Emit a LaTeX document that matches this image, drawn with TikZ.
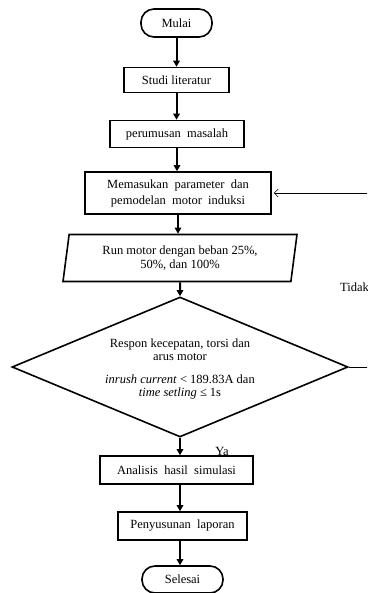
\documentclass[tikz,border=0pt]{standalone}
\usepackage{fontspec}
\setmainfont{Liberation Serif}
\usetikzlibrary{shapes.geometric,arrows.meta}
\begin{document}
\begin{tikzpicture}[x=1pt,y=-1pt,
  txt/.style={font=\fontsize{12.5}{16}\selectfont,align=center},
  box/.style={draw,line width=1.6pt,inner sep=0pt,txt},
  term/.style={draw,line width=1.6pt,rounded corners=13pt,inner sep=0pt,txt},
  flow/.style={line width=2pt,-{Triangle[length=6pt,width=6.5pt]}},
  fb/.style={line width=0.6pt}
]
\useasboundingbox (0,0) rectangle (367,593);
\clip (0,0) rectangle (367,593);

\node[term,minimum width=71pt,minimum height=28pt] (mulai) at (176.5,23) {Mulai};
\node[box,minimum width=105pt,minimum height=25pt] (studi) at (176.5,80) {Studi literatur};
\node[box,minimum width=134pt,minimum height=27pt] (rumus) at (177,134) {perumusan\ \ masalah};
\node[box,minimum width=186pt,minimum height=42pt] (param) at (178,193)
  {Memasukan\ \ parameter\ \ dan\\pemodelan\ \ motor\ \ induksi};
\node[draw,line width=1.6pt,trapezium,trapezium left angle=76,trapezium right angle=104,
  trapezium stretches body,minimum width=234pt,minimum height=47pt,inner sep=0pt,
  txt,font=\fontsize{12.5}{14}\selectfont] (run) at (180,258)
  {Run motor dengan beban 25\%,\\50\%, dan 100\%};
\node[draw,line width=1.6pt,diamond,aspect=2.4,minimum width=336pt,minimum height=140pt,
  inner sep=0pt] (dec) at (180,367) {};
\node[txt,font=\fontsize{12.5}{13.5}\selectfont] (dectxt) at (180,369)
  {Respon kecepatan, torsi dan\\arus motor\\[9pt]
   \textit{inrush current} < 189.83A dan\\\textit{time setling} ≤ 1s};
\node[box,minimum width=153pt,minimum height=28pt] (anal) at (176.5,470) {Analisis\ \ hasil\ \ simulasi};
\node[box,minimum width=129pt,minimum height=28pt] (susun) at (182.5,526) {Penyusunan\ \ laporan};
\node[term,minimum width=81pt,minimum height=27pt] (selesai) at (182.5,579.5) {Selesai};

\node[txt,anchor=west,inner sep=0pt] (tidak) at (340,287) {Tidak};
\node[txt,inner sep=0pt] (ya) at (222,451) {Ya};

\draw[flow] (mulai) -- (mulai |- studi.north);
\draw[flow] (studi) -- (studi |- rumus.north);
\draw[flow] (rumus) -- (rumus |- param.north);
\draw[flow] (param) -- (param |- run.north);
\draw[flow] (run) -- (run |- dec.north);
\draw[flow] (dec) -- (dec |- anal.north);
\draw[flow] ([xshift=3.5pt]anal.south) -- ([xshift=3.5pt]anal.south |- susun.north);
\draw[flow] ([xshift=-2.5pt]susun.south) -- ([xshift=-2.5pt]susun.south |- selesai.north);

\coordinate (fbr) at (380,367);
\coordinate (fbt) at (380,193);
\draw[fb,-{Straight Barb[length=4pt,width=8pt,line width=0.6pt]},shorten >=2pt]
  (dec.east) -- (fbr) -- (fbt) -- (param.east);
\end{tikzpicture}
\end{document}
